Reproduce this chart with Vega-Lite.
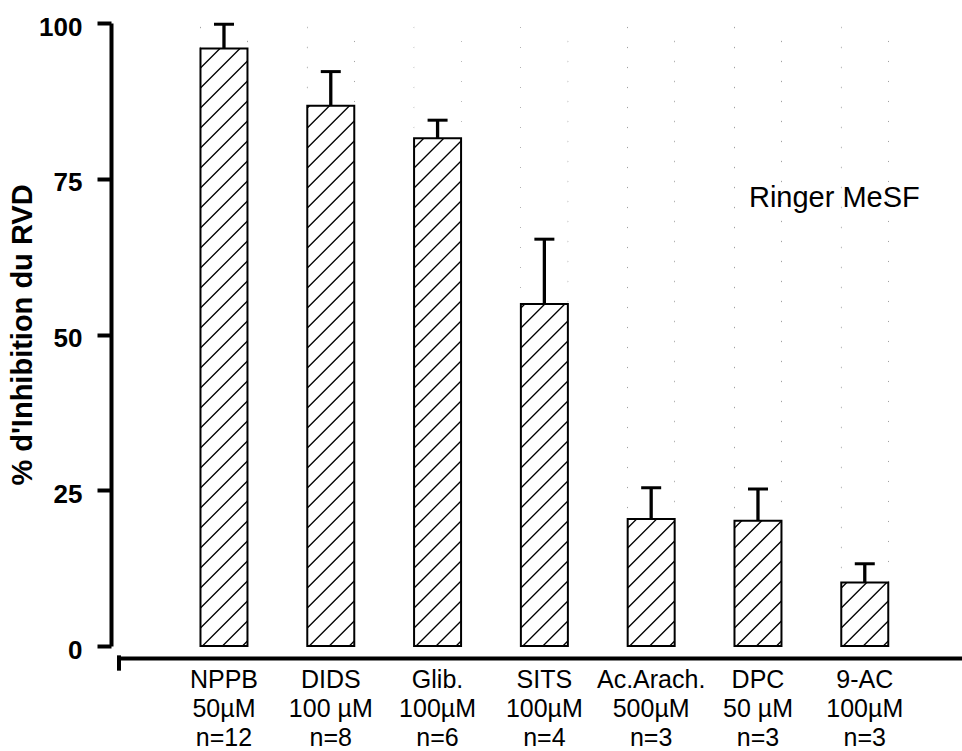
{
  "$schema": "https://vega.github.io/schema/vega-lite/v6.json",
  "width": 845,
  "height": 623,
  "autosize": "none",
  "padding": {"left": 117, "top": 23, "right": 0, "bottom": 105},
  "background": "white",
  "config": {"view": {"stroke": null}, "font": "Liberation Sans"},
  "data": {
    "values": [
      {"drug": "NPPB|50µM|n=12", "mean": 95.9, "upper": 99.8},
      {"drug": "DIDS|100 µM|n=8", "mean": 86.7, "upper": 92.2},
      {"drug": "Glib.|100µM|n=6", "mean": 81.5, "upper": 84.4},
      {"drug": "SITS|100µM|n=4", "mean": 54.9, "upper": 65.3},
      {"drug": "Ac.Arach.|500µM|n=3", "mean": 20.4, "upper": 25.4},
      {"drug": "DPC|50 µM|n=3", "mean": 20.1, "upper": 25.2},
      {"drug": "9-AC|100µM|n=3", "mean": 10.2, "upper": 13.2}
    ]
  },
  "encoding": {
    "x": {
      "field": "drug",
      "type": "nominal",
      "sort": null,
      "scale": {"type": "band", "paddingInner": 0.56, "paddingOuter": 0.736, "align": 0.531},
      "axis": {
        "title": null,
        "ticks": false,
        "grid": false,
        "domainWidth": 4,
        "domainColor": "black",
        "offset": 12,
        "labelAngle": 0,
        "labelFont": "Liberation Sans",
        "labelFontSize": 25,
        "labelColor": "black",
        "labelLineHeight": 29,
        "labelPadding": 9,
        "labelOverlap": false,
        "labelExpr": "split(datum.value, '|')"
      }
    }
  },
  "layer": [
    {
      "mark": {
        "type": "point",
        "shape": "M-23.5,-306.5l5,-5M-23.5,-286.5l25,-25M-23.5,-266.5l45,-45M-23.5,-246.5l47,-47M-23.5,-226.5l47,-47M-23.5,-206.5l47,-47M-23.5,-186.5l47,-47M-23.5,-166.5l47,-47M-23.5,-146.5l47,-47M-23.5,-126.5l47,-47M-23.5,-106.5l47,-47M-23.5,-86.5l47,-47M-23.5,-66.5l47,-47M-23.5,-46.5l47,-47M-23.5,-26.5l47,-47M-23.5,-6.5l47,-47M-23.5,13.5l47,-47M-23.5,33.5l47,-47M-23.5,53.5l47,-47M-23.5,73.5l47,-47M-23.5,93.5l47,-47M-23.5,113.5l47,-47M-23.5,133.5l47,-47M-23.5,153.5l47,-47M-23.5,173.5l47,-47M-23.5,193.5l47,-47M-23.5,213.5l47,-47M-23.5,233.5l47,-47M-23.5,253.5l47,-47M-23.5,273.5l47,-47M-23.5,293.5l47,-47M-21.5,311.5l45,-45M-1.5,311.5l25,-25M18.5,311.5l5,-5",
        "size": 4,
        "filled": false,
        "stroke": "black",
        "strokeWidth": 1.3,
        "opacity": 1
      },
      "encoding": {
        "y": {
          "datum": 50,
          "type": "quantitative",
          "scale": {"domain": [0, 100], "nice": false, "zero": true},
          "axis": {
            "title": "% d'Inhibition du RVD",
            "titleFont": "Liberation Sans",
            "titleFontSize": 29,
            "titleFontWeight": "bold",
            "titleColor": "black",
            "titlePadding": 1,
            "values": [0, 25, 50, 75, 100],
            "grid": false,
            "offset": 6,
            "domainWidth": 4,
            "domainColor": "black",
            "tickWidth": 4,
            "tickColor": "black",
            "tickSize": 14,
            "labelFont": "Liberation Sans",
            "labelFontSize": 26,
            "labelFontWeight": "bold",
            "labelColor": "black",
            "labelPadding": 15,
            "labelOffset": 4,
            "labelFlush": false,
            "labelOverlap": false
          }
        }
      }
    },
    {
      "mark": {"type": "bar", "fill": "white", "strokeWidth": 0},
      "encoding": {
        "y": {"field": "mean", "type": "quantitative"},
        "y2": {"datum": 101}
      }
    },
    {
      "mark": {"type": "bar", "fill": "white", "fillOpacity": 0, "stroke": "black", "strokeWidth": 2},
      "encoding": {
        "y": {"field": "mean", "type": "quantitative"}
      }
    },
    {
      "mark": {"type": "rule", "strokeWidth": 3.3, "color": "black"},
      "encoding": {
        "y": {"field": "mean", "type": "quantitative"},
        "y2": {"field": "upper"}
      }
    },
    {
      "mark": {"type": "tick", "size": 20, "thickness": 3, "color": "black", "opacity": 1},
      "encoding": {
        "y": {"field": "upper", "type": "quantitative"}
      }
    },
    {
      "data": {"values": [{"t": "Ringer MeSF"}]},
      "mark": {"type": "text", "align": "left", "baseline": "alphabetic", "dx": -9, "fontSize": 29, "font": "Liberation Sans", "color": "black"},
      "encoding": {
        "x": {"datum": "DPC|50 µM|n=3"},
        "y": {"datum": 70.5, "type": "quantitative"},
        "text": {"field": "t"}
      }
    },
    {
      "data": {"values": [{"t": "start"}]},
      "mark": {"type": "rule", "strokeWidth": 4, "color": "black"},
      "encoding": {
        "x": {"datum": "NPPB|50µM|n=12", "bandPosition": -1.734},
        "y": {"datum": -1.5, "type": "quantitative"},
        "y2": {"datum": -3.96}
      }
    }
  ]
}
